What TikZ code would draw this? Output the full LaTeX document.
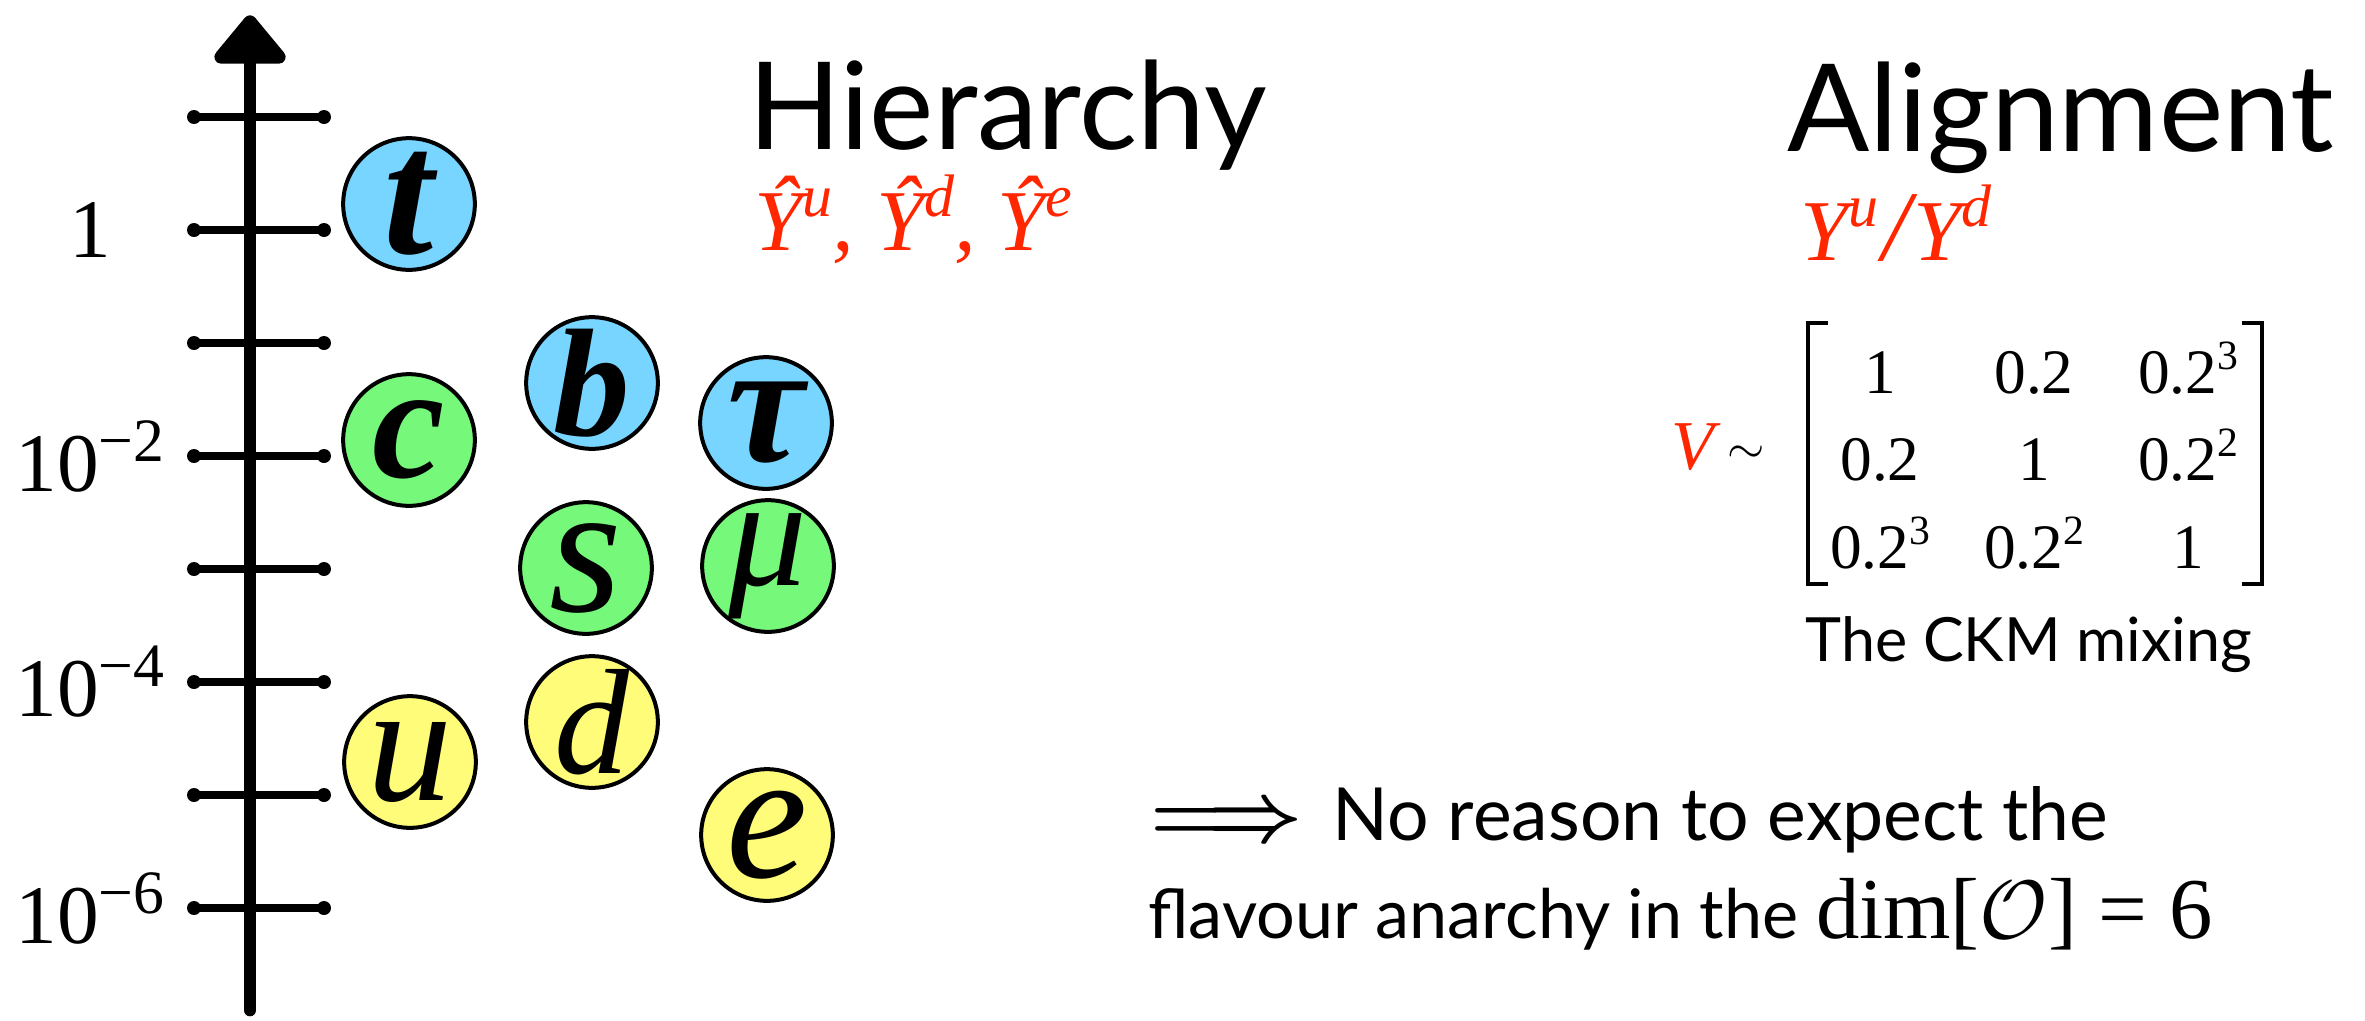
\documentclass[tikz,border=0pt]{standalone}
\usepackage{fontspec}
\setmainfont{Liberation Serif}
\newfontfamily\gill{Lato}
\definecolor{qblue}{RGB}{120,213,255}
\definecolor{qgreen}{RGB}{118,248,122}
\definecolor{qyellow}{RGB}{255,252,122}
\definecolor{qred}{RGB}{255,38,0}
\newcommand\fsz[1]{\fontsize{#1}{#1}\selectfont}
\newcommand\myexp[1]{\raisebox{9pt}{\fsz{18.5pt}#1}}
\newcommand\mtxexp[1]{\raisebox{7pt}{\fsz{12.5pt}#1}}
\newcommand\redsup[1]{\raisebox{10pt}{\fsz{18pt}\itshape #1}}
\newcommand\bigimpl{\mbox{\fsz{23pt}\boldmath$\Longrightarrow$}}
\begin{document}
\begin{tikzpicture}[x=0.3pt,y=-0.3pt,
  part/.style={circle,draw=black,line width=1.2pt,minimum size=39.5pt,inner sep=0pt},
  ltr/.style={font=\fsz{#1}\itshape,inner sep=0pt},
  ltrb/.style={font=\fsz{#1}\bfseries\itshape,inner sep=0pt},
  ticklab/.style={font=\fsz{25pt},inner sep=0pt,anchor=center},
  heading/.style={font=\gill\fsz{36.5pt},inner sep=0pt,anchor=base west},
  redmath/.style={font=\fsz{26pt},text=qred,inner sep=0pt,anchor=base west},
  mtx/.style={font=\fsz{19pt},inner sep=0pt,anchor=base},
  brk/.style={line width=1.3pt},
  tickln/.style={line width=2.6pt,line cap=round},
  bodytxt/.style={font=\gill\fsz{22pt},inner sep=0pt,anchor=base west}]
\useasboundingbox (0,0) rectangle (2365,1021);

% axis
\coordinate (axbot) at (250,1010);
\coordinate (axtop) at (250,58);
\draw[line width=3.8pt,line cap=round] (axbot) -- (axtop);
\coordinate (ah1) at (250,22);
\coordinate (ah2) at (279,57);
\coordinate (ah3) at (221,57);
\filldraw[line width=4pt,line join=round] (ah1) -- (ah2) -- (ah3) -- cycle;
\foreach \yy in {117,230,343,456,569,682,795,908}{
  \coordinate (tl) at (194,\yy);
  \coordinate (tr) at (324,\yy);
  \draw[tickln] (tl) -- (tr);
  \fill (tl) circle (7);
  \fill (tr) circle (7);
}
\node[ticklab] (lab1) at (90,230) {1};
\node[ticklab] (lab2) at (90,456) {10\myexp{−2}};
\node[ticklab] (lab4) at (90,682) {10\myexp{−4}};
\node[ticklab] (lab6) at (90,908) {10\myexp{−6}};

% particles
\node[part,fill=qblue]   (pt)   at (409,204) {};
\node[part,fill=qgreen]  (pc)   at (409,440) {};
\node[part,fill=qyellow] (pu)   at (410,762) {};
\node[part,fill=qblue]   (pb)   at (592,383) {};
\node[part,fill=qgreen]  (ps)   at (586,568) {};
\node[part,fill=qyellow] (pd)   at (592,722) {};
\node[part,fill=qblue]   (ptau) at (766,423) {};
\node[part,fill=qgreen]  (pmu)  at (768,566) {};
\node[part,fill=qyellow] (pe)   at (767,835) {};
\node[ltrb=54pt] (lt)   at (pt.center)   {t};
\node[ltrb=49pt] (lc)   at (pc.center)   {c};
\node[ltr=51pt]  (lu)   at (pu.center)   {u};
\node[ltrb=46pt] (lb)   at (pb.center)   {b};
\node[ltr=56pt]  (ls)   at (ps.center)   {s};
\node[ltr=45pt]  (ld)   at (pd.center)   {d};
\node[ltrb=52pt] (ltau) at (ptau.center) {τ};
\node[ltr=47pt]  (lmu)  at (pmu.center)  {μ};
\node[ltr=55pt]  (le)   at (pe.center)   {e};

% headings
\node[heading] (hier) at (748,149) {Hierarchy};
\node[redmath] (hiery) at (754,250) {\itshape Ŷ\redsup{u}, Ŷ\redsup{d}, Ŷ\redsup{e}};
\node[heading] (align) at (1787,151) {Alignment};
\node[redmath] (aligny) at (1800,260) {\itshape Y\redsup{u}\kern1pt{\fsz{30pt}/}\kern1pt Y\redsup{d}};

% CKM matrix
\node[font=\fsz{21pt}\itshape,text=qred,inner sep=0pt,anchor=base west] (vsym) at (1671,469) {V};
\node[font=\fsz{15pt},inner sep=0pt] (sim) at (1746,455) {$\sim$};
\coordinate (lb1) at (1828,323);
\coordinate (lb2) at (1808,323);
\coordinate (lb3) at (1808,584);
\coordinate (lb4) at (1828,584);
\draw[brk] (lb1) -- (lb2) -- (lb3) -- (lb4);
\coordinate (rb1) at (2242,323);
\coordinate (rb2) at (2262,323);
\coordinate (rb3) at (2262,584);
\coordinate (rb4) at (2242,584);
\draw[brk] (rb1) -- (rb2) -- (rb3) -- (rb4);
\node[mtx] (m11) at (1880,393) {1};
\node[mtx] (m12) at (2034,393) {0.2};
\node[mtx] (m13) at (2188,393) {0.2\mtxexp{3}};
\node[mtx] (m21) at (1880,480) {0.2};
\node[mtx] (m22) at (2034,480) {1};
\node[mtx] (m23) at (2188,480) {0.2\mtxexp{2}};
\node[mtx] (m31) at (1880,568) {0.2\mtxexp{3}};
\node[mtx] (m32) at (2034,568) {0.2\mtxexp{2}};
\node[mtx] (m33) at (2188,568) {1};
\node[font=\gill\fsz{18.3pt},inner sep=0pt,anchor=base west] (ckm) at (1805,661) {The CKM mixing};

% conclusion
\node[bodytxt] (line1) at (1150,840) {\bigimpl\hspace{9pt}No reason to expect the};
\node[bodytxt,font=\gill\fsz{20.5pt}] (line2) at (1148,938) {flavour anarchy in the {\rmfamily\fsz{26pt}dim[$\mathcal{O}$] = 6}};
\end{tikzpicture}
\end{document}
